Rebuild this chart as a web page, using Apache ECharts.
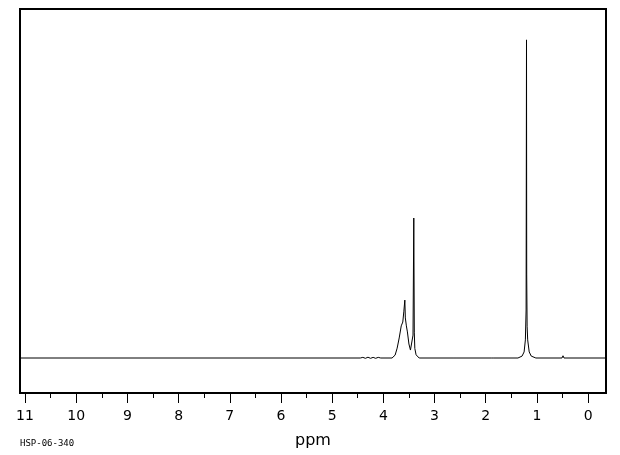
<!DOCTYPE html>
<html>
<head>
<meta charset="utf-8">
<script src="https://cdn.jsdelivr.net/npm/echarts@6/dist/echarts.min.js"></script>
<style>html,body{margin:0;padding:0;background:#fff}#c{width:620px;height:455px}</style>
</head>
<body>
<div id="c"></div>
<script>
// Spectrum points: chemical shift (ppm) and relative intensity
var shiftPpm = [11.1, 4.45, 4.40, 4.35, 4.30, 4.25, 4.20, 4.15, 4.10, 4.05, 3.83, 3.77, 3.73, 3.69, 3.65, 3.62, 3.60, 3.58, 3.57, 3.55, 3.53, 3.50, 3.47, 3.44, 3.42, 3.405, 3.395, 3.385, 3.36, 3.30, 2.62, 2.60, 2.58, 1.88, 1.86, 1.84, 1.37, 1.29, 1.25, 1.225, 1.211, 1.203, 1.199, 1.191, 1.18, 1.15, 1.11, 1.02, 0.51, 0.49, 0.47, -0.4];
var intensity = [0, 0, 0.2, -0.1, 0.25, -0.1, 0.2, -0.1, 0.2, 0, 0, 0.9, 3.1, 6.3, 10.1, 11.3, 14.5, 18.2, 12.6, 10.1, 8.2, 4.4, 2.5, 3.1, 7.2, 44.0, 7.9, 3.0, 1.0, 0, 0, 0.5, 0, 0, 0.4, 0, 0, 0.6, 1.9, 5.7, 15.1, 100, 26.1, 10.0, 5.7, 1.9, 0.6, 0, 0, 0.7, 0, 0];
var majorTicks = [0, 1, 2, 3, 4, 5, 6, 7, 8, 9, 10, 11];
var minorTicks = [0.5, 1.5, 2.5, 3.5, 4.5, 5.5, 6.5, 7.5, 8.5, 9.5, 10.5];
var axisTitle = 'ppm';
var sampleId = 'HSP-06-340';

var points = shiftPpm.map(function (p, i) { return [p, intensity[i]]; });
var chart = echarts.init(document.getElementById('c'), null, {renderer: 'canvas'});
var xMin = -0.35, xMax = 11.098;
chart.setOption({
  animation: false,
  backgroundColor: '#fff',
  grid: {left: 20, top: 9, right: 14, bottom: 62, show: true, borderColor: '#000', borderWidth: 2,
         backgroundColor: 'transparent', containLabel: false, outerBoundsMode: 'none'},
  xAxis: [{
    type: 'value', inverse: true, min: xMin, max: xMax, position: 'bottom',
    axisLine: {show: false, onZero: false},
    splitLine: {show: false},
    axisTick: {show: true, inside: false, length: 10, lineStyle: {color: '#000', width: 1}, customValues: majorTicks},
    axisLabel: {show: true, margin: 16, color: '#000', fontSize: 14, fontFamily: 'DejaVu Sans', customValues: majorTicks},
    name: axisTitle, nameLocation: 'middle', nameGap: 40,
    nameTextStyle: {color: '#000', fontSize: 16, fontFamily: 'DejaVu Sans'}
  }, {
    type: 'value', inverse: true, min: xMin, max: xMax, position: 'bottom', offset: 0,
    axisLine: {show: false, onZero: false},
    splitLine: {show: false},
    axisTick: {show: true, inside: false, length: 5, lineStyle: {color: '#000', width: 1}, customValues: minorTicks},
    axisLabel: {show: false}
  }],
  yAxis: {type: 'value', min: -11, max: 109.7, show: false},
  series: [{
    type: 'line', xAxisIndex: 0, data: points, showSymbol: false, symbol: 'none',
    lineStyle: {color: '#000', width: 1, join: 'bevel'}, clip: true
  }],
  graphic: [{
    type: 'text', left: 20, top: 439,
    style: {text: sampleId, fill: '#000', font: '9px "DejaVu Sans Mono"'}
  }]
});
</script>
</body>
</html>
